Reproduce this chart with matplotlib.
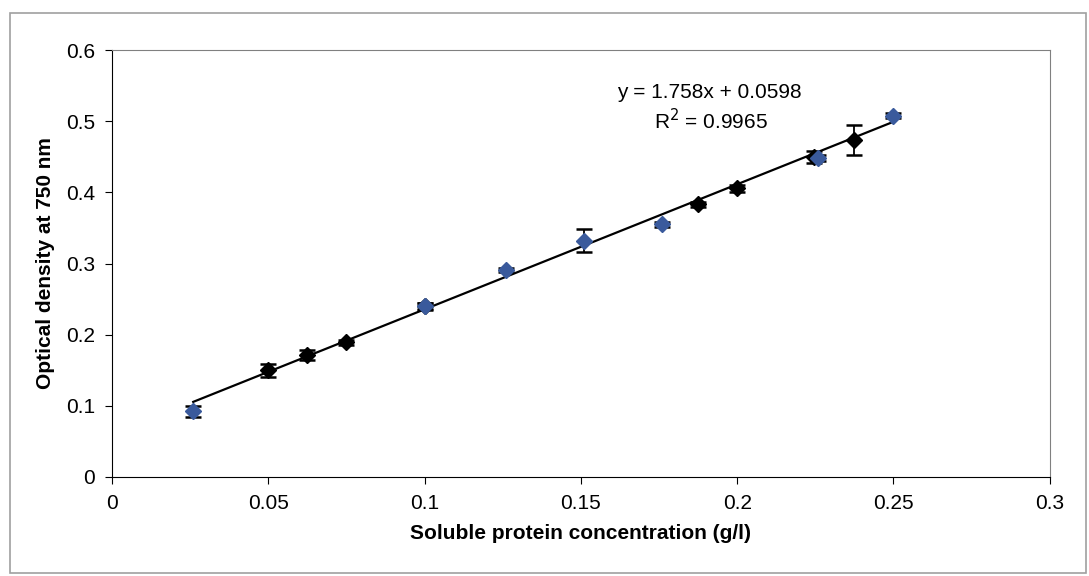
import matplotlib.pyplot as plt
from matplotlib.patches import Rectangle

plt.rcParams['font.family'] = ['Liberation Sans', 'DejaVu Sans']

# blue series
blue_x = [0.026, 0.1, 0.126, 0.151, 0.176, 0.226, 0.25]
blue_y = [0.092, 0.24, 0.291, 0.332, 0.355, 0.448, 0.508]
blue_err = [0.008, 0.004, 0.003, 0.016, 0.004, 0.004, 0.004]

# black series
black_x = [0.05, 0.0625, 0.075, 0.1, 0.1875, 0.2, 0.2245, 0.2375]
black_y = [0.15, 0.171, 0.189, 0.24, 0.383, 0.406, 0.45, 0.474]
black_err = [0.009, 0.007, 0.004, 0.005, 0.004, 0.005, 0.008, 0.021]

slope = 1.758
intercept = 0.0598

fig = plt.figure(figsize=(10.89, 5.76), dpi=100)
fig.patches.append(Rectangle((0.009, 0.005), 0.988, 0.972, transform=fig.transFigure,
                             fill=False, edgecolor='#a0a0a0', linewidth=1.2))
ax = fig.add_axes([0.1028, 0.172, 0.8612, 0.741])

ax.errorbar(black_x, black_y, yerr=black_err, fmt='D', color='black', markersize=8.5,
            ecolor='black', elinewidth=1.3, capsize=6, capthick=1.8, zorder=3)
ax.errorbar(blue_x, blue_y, yerr=blue_err, fmt='D', color='#3a5a9c', markersize=8.5,
            ecolor='black', elinewidth=1.3, capsize=6, capthick=1.8, zorder=4)

all_x = blue_x + black_x
tx = [min(all_x), max(all_x)]
ax.plot(tx, [slope * v + intercept for v in tx], color='black', linewidth=1.6, zorder=2)

ax.text(0.1615, 0.541, 'y = 1.758x + 0.0598', fontsize=15, va='center')
ax.text(0.1733, 0.501, 'R$^2$ = 0.9965', fontsize=15, va='center')

ax.set_xlim(0, 0.3)
ax.set_ylim(0, 0.6)
ax.set_xticks([0, 0.05, 0.1, 0.15, 0.2, 0.25, 0.3])
ax.set_xticklabels(['0', '0.05', '0.1', '0.15', '0.2', '0.25', '0.3'])
ax.set_yticks([0, 0.1, 0.2, 0.3, 0.4, 0.5, 0.6])
ax.set_yticklabels(['0', '0.1', '0.2', '0.3', '0.4', '0.5', '0.6'])
ax.tick_params(labelsize=15, direction='out', length=5, pad=7)
ax.set_xlabel('Soluble protein concentration (g/l)', fontsize=15, fontweight='bold', labelpad=8)
ax.set_ylabel('Optical density at 750 nm', fontsize=15, fontweight='bold', labelpad=8)

for s in ['top', 'right']:
    ax.spines[s].set_color('#808080')
for s in ['left', 'bottom']:
    ax.spines[s].set_color('black')

fig.savefig('out.png', dpi=100)
